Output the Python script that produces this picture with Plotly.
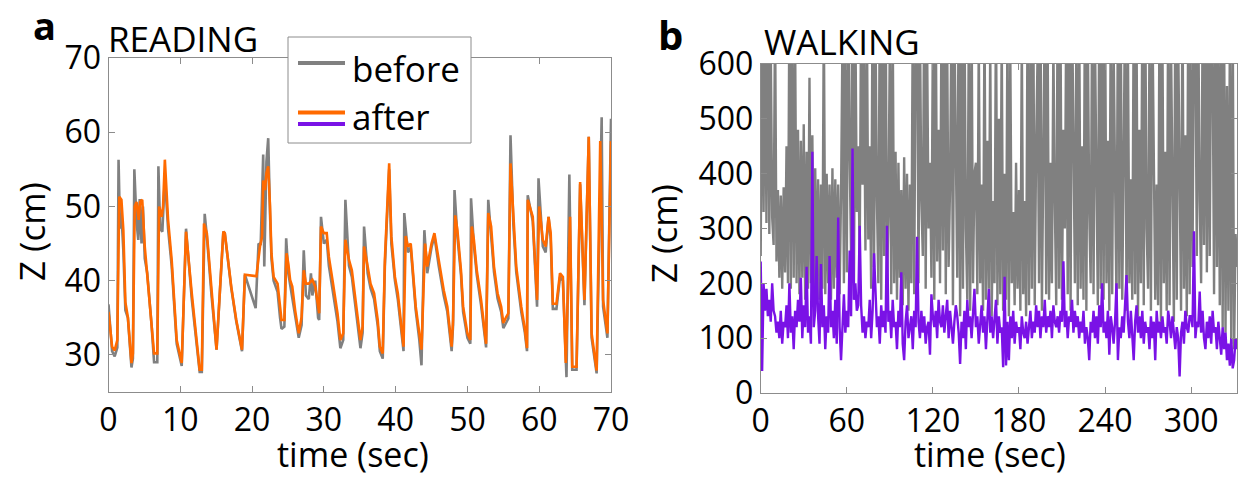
import plotly.graph_objects as go

W, H = 1238, 477

# ---------------- data: READING (panel a) ----------------
read_t_after = [0, 0.3, 0.5, 0.86, 1.23, 1.5, 1.8, 2.07, 2.35, 2.7, 3.2, 3.4, 3.65, 3.9, 4.2, 4.4, 4.7, 5.05, 5.4, 6.0,
                6.35, 6.8, 7.05, 7.4, 7.6, 7.85, 8.3, 8.8, 9.5, 10.2, 10.8, 11.6, 12.0, 12.7, 13.0, 13.3, 13.7, 14.35, 15.05, 15.5,
                16.0, 16.2, 17.1, 17.8, 18.6, 19.0, 20.6, 21.1, 21.4, 21.55, 21.8, 22.0, 22.25, 22.5, 22.7, 23.0, 23.3, 23.55, 23.9, 24.1,
                24.5, 24.8, 25.05, 25.3, 25.6, 26.0, 26.5, 26.9, 27.2, 27.5, 27.9, 28.4, 28.8, 29.2, 29.35, 29.6, 30.0, 30.4, 30.7, 31.2,
                31.9, 32.3, 32.7, 33.0, 33.5, 33.9, 34.6, 35.1, 35.4, 35.6, 36.1, 36.5, 37.0, 37.5, 37.8, 38.2, 38.5, 38.8, 39.1, 39.4,
                39.9, 40.3, 40.7, 41.1, 41.4, 41.7, 42.1, 42.5, 42.8, 43.3, 43.6, 44.1, 44.4, 45.0, 45.4, 46.0, 46.7, 47.2, 47.8, 48.0,
                48.3, 48.6, 49.1, 49.4, 50.0, 50.4, 50.6, 50.9, 51.3, 51.9, 52.3, 52.6, 52.9, 53.3, 53.7, 54.2, 54.7, 55.0, 55.4, 55.7,
                56.0, 56.4, 56.8, 57.5, 58.0, 58.3, 58.4, 59.1, 59.7, 60.0, 60.5, 60.9, 61.3, 61.6, 61.9, 62.4, 62.9, 63.3, 63.7, 64.3,
                64.6, 65.2, 65.7, 66.3, 66.9, 67.3, 68.0, 68.5, 68.9, 69.5, 70.0]
read_z_after = [35.8, 32.9, 31.1, 30.6, 32, 51.3, 50.9, 46.8, 37.1, 35.1, 28.9, 30.2, 50, 50.6, 48.2, 50.6, 50.9, 44.6, 41, 34.7,
                30.2, 30.2, 50, 48.6, 50, 56.3, 48.2, 42.8, 32, 28.9, 46.6, 38.3, 34.7, 28, 28, 47.7, 46.4, 38.3, 30.7, 38.3,
                46.6, 46.4, 39.2, 34.7, 30.7, 40.8, 40.6, 44.6, 45.9, 53.5, 52.2, 54.5, 55.4, 50, 43.7, 40.5, 40.1, 39.6, 36.5, 34.7,
                34.7, 43.7, 42.3, 40.1, 39.2, 36, 32.9, 35.1, 41.4, 39.6, 39.6, 40.1, 39.2, 36.5, 35.6, 47.3, 46.4, 46.4, 43.2, 40.1,
                35.6, 32, 32.9, 45.5, 42.8, 41.4, 35.6, 32, 33.8, 44.6, 41.9, 39.6, 38.3, 34.7, 31.1, 30.2, 42.8, 48.6, 55.8, 46,
                40.5, 38.3, 34.7, 31.1, 46, 44.6, 45, 40.5, 36.5, 32.9, 30.7, 45, 41.9, 45, 46.4, 42.8, 38.7, 36.5, 31.1, 34.7,
                48.8, 46.8, 41.4, 36.5, 32.9, 32, 47.3, 45.5, 41.4, 37.4, 33.8, 31.5, 49.1, 47.3, 41.9, 38.3, 36.5, 34.3, 35.1, 35.6,
                55.8, 48.2, 41.9, 36.5, 33.5, 30.9, 50.9, 48.6, 37.4, 50, 45.5, 44.6, 48.6, 46.4, 36.9, 36.9, 41, 40.5, 28.9, 48.6,
                28.4, 28.4, 53.3, 37.4, 59.4, 32.9, 27.9, 58.8, 37.4, 32.9, 58.8]

read_t_before = [0, 0.3, 0.5, 0.86, 1.23, 1.4, 1.6, 1.8, 2.07, 2.35, 2.7, 3.2, 3.4, 3.6, 3.9, 4.15, 4.35, 4.6, 4.8, 5.05,
                 5.4, 6.0, 6.35, 6.8, 6.95, 7.2, 7.5, 7.85, 8.3, 8.8, 9.5, 10.2, 10.8, 11.6, 12.0, 12.7, 13.0, 13.4, 13.7, 14.35,
                 15.05, 15.5, 16.0, 16.2, 17.1, 17.8, 18.6, 19.0, 20.5, 20.9, 21.2, 21.55, 21.7, 22.0, 22.25, 22.5, 22.7, 23.0, 23.3, 23.55,
                 23.9, 24.1, 24.5, 24.75, 25.05, 25.3, 25.6, 26.0, 26.5, 26.9, 27.2, 27.5, 27.9, 28.2, 28.4, 28.8, 29.2, 29.35, 29.6, 30.0,
                 30.4, 30.7, 31.2, 31.9, 32.3, 32.7, 33.0, 33.5, 33.9, 34.6, 35.1, 35.4, 35.6, 36.1, 36.5, 37.0, 37.5, 37.8, 38.2, 38.5,
                 38.8, 39.1, 39.4, 39.9, 40.3, 40.7, 41.1, 41.2, 41.7, 42.1, 42.5, 42.8, 43.3, 43.6, 44.0, 44.4, 45.0, 45.4, 46.0, 46.7,
                 47.2, 47.8, 48.0, 48.2, 48.6, 49.1, 49.4, 50.0, 50.4, 50.5, 50.9, 51.3, 51.9, 52.3, 52.6, 52.9, 53.3, 53.7, 54.2, 54.7,
                 55.0, 55.4, 55.7, 56.0, 56.4, 56.8, 57.5, 58.0, 58.3, 58.4, 59.1, 59.7, 59.9, 60.5, 60.9, 61.3, 61.6, 61.9, 62.4, 62.9,
                 63.3, 63.8, 64.2, 64.6, 65.2, 65.7, 66.3, 66.9, 67.3, 68.0, 68.7, 68.9, 69.5, 70.0]
read_z_before = [36.8, 33, 30.5, 29.8, 31, 56.3, 47, 49, 44, 36, 35, 28.3, 29.5, 55, 48, 45.5, 51, 45, 50, 43,
                 41, 34, 29, 29, 55.4, 47, 46.6, 54, 47, 42, 31.5, 28.5, 47, 37.5, 34, 27.7, 27.7, 49, 46, 38,
                 30.7, 38, 46.6, 46.4, 39, 34.5, 30.5, 40.8, 36.3, 45, 44.8, 57, 41.9, 56, 59.2, 49, 43, 40, 39, 38.5,
                 35, 33.5, 33.8, 45.7, 41, 39.5, 38, 35, 32.3, 34, 44.1, 38, 37.5, 41, 38, 40, 35, 34.7, 48.6, 45,
                 45.5, 42, 39, 34.5, 30.9, 32, 50.9, 42, 40.5, 35, 30.9, 33, 47.3, 41, 39, 37.5, 34, 30.5, 29.5, 42,
                 48, 55, 45, 40, 37.5, 34, 30.5, 49.1, 43.8, 44.5, 39.5, 36, 32, 28.6, 46.8, 41, 44.5, 46, 42, 38,
                 35.8, 30.5, 34, 52.2, 46, 40.8, 35.8, 32.3, 31.5, 51.1, 44.8, 40.8, 36.7, 33, 31, 50.9, 46.5, 41.2, 37.6, 35.8,
                 33.6, 34.4, 34.9, 59.6, 47.5, 41.2, 35.8, 33, 30.5, 51.5, 48, 36.5, 53.8, 44.6, 43.8, 48.6, 45.6, 36.2, 36.2, 40.5,
                 40, 27, 54.3, 28, 28, 53, 36.7, 59.4, 32.3, 27.5, 62, 36.5, 32.3, 61.8]

# ---------------- data: WALKING (panel b), one sample per second ----------------
walk_before = [
    250, 720, 330, 680, 310, 760, 290, 640, 320, 270,
    700, 240, 370, 210, 360, 190, 375, 220, 450, 200,
    720, 190, 680, 210, 650, 200, 480, 180, 460, 210,
    490, 170, 440, 190, 575, 200, 470, 180, 410, 200,
    390, 170, 380, 190, 700, 180, 400, 200, 380, 170,
    410, 190, 390, 210, 380, 180, 360, 650, 200, 720,
    220, 800, 430, 250, 760, 200, 680, 330, 450, 240,
    720, 380, 610, 260, 700, 280, 450, 190, 750, 230,
    680, 350, 200, 720, 170, 660, 250, 800, 190, 320,
    640, 180, 690, 200, 440, 170, 420, 210, 370, 160,
    430, 190, 400, 150, 380, 200, 700, 180, 650, 720,
    200, 680, 350, 250, 760, 190, 640, 300, 420, 210,
    660, 170, 720, 240, 480, 200, 690, 260, 740, 180,
    640, 230, 380, 700, 160, 680, 450, 210, 750, 140,
    660, 190, 720, 300, 170, 640, 150, 700, 200, 400,
    420, 180, 650, 200, 380, 150, 700, 170, 460, 190,
    640, 140, 350, 200, 720, 160, 500, 180, 660, 150,
    400, 170, 680, 140, 620, 200, 330, 160, 420, 190,
    370, 150, 650, 180, 350, 140, 700, 160, 640, 190,
    720, 160, 450, 620, 200, 740, 150, 400, 700, 180,
    650, 170, 420, 200, 640, 350, 160, 750, 190, 660,
    170, 480, 300, 700, 180, 690, 150, 720, 380, 200,
    640, 160, 710, 190, 450, 170, 740, 150, 660, 330,
    200, 700, 180, 650, 400, 160, 720, 190, 690, 170,
    750, 200, 460, 150, 700, 180, 630, 350, 160, 720,
    190, 680, 170, 420, 740, 150, 620, 200, 390, 170,
    720, 180, 650, 140, 480, 200, 690, 160, 740, 300,
    190, 650, 150, 700, 360, 170, 380, 160, 720, 130,
    660, 200, 440, 150, 700, 160, 640, 350, 130, 720,
    170, 650, 420, 150, 740, 190, 470, 140, 700, 180,
    650, 230, 720, 640, 250, 700, 350, 200, 680, 270,
    740, 220, 660, 250, 700, 630, 180, 720, 230, 650,
    160, 700, 120, 680, 110, 560, 150, 640, 90, 700,
    80, 290, 230]
walk_after = [
    240, 40, 200, 150, 190, 140, 170, 130, 200, 150,
    140, 110, 130, 100, 150, 90, 130, 120, 160, 100,
    200, 110, 140, 80, 150, 120, 170, 130, 210, 100,
    160, 120, 230, 110, 140, 90, 440, 120, 150, 250,
    140, 90, 235, 120, 160, 80, 140, 110, 250, 120,
    150, 100, 170, 90, 320, 120, 60, 130, 180, 110,
    150, 120, 260, 140, 446, 170, 200, 150, 160, 305,
    160, 110, 140, 100, 130, 120, 170, 100, 150, 255,
    190, 120, 140, 90, 160, 120, 150, 110, 305, 130,
    150, 100, 170, 120, 130, 80, 150, 120, 220, 90,
    60, 130, 160, 100, 120, 140, 80, 150, 120, 285,
    130, 100, 150, 110, 140, 90, 120, 130, 70, 180,
    140, 120, 150, 100, 170, 130, 120, 160, 110, 140,
    170, 100, 150, 120, 90, 130, 160, 140, 110, 53,
    130, 100, 150, 80, 170, 120, 140, 100, 150, 190,
    120, 140, 90, 130, 160, 110, 140, 80, 130, 190,
    110, 140, 100, 130, 170, 90, 140, 110, 120, 47,
    212, 50, 130, 60, 140, 100, 150, 90, 130, 110,
    120, 80, 140, 110, 100, 130, 90, 120, 150, 100,
    130, 110, 160, 120, 150, 100, 140, 120, 170, 110,
    140, 120, 150, 100, 160, 130, 120, 140, 110, 150,
    130, 240, 120, 150, 100, 140, 130, 170, 110, 150,
    120, 140, 100, 130, 110, 150, 90, 120, 100, 60,
    130, 110, 150, 100, 140, 90, 160, 120, 200, 110,
    130, 100, 150, 70, 140, 120, 90, 130, 200, 60,
    120, 100, 140, 110, 170, 215, 130, 100, 150, 110,
    60, 130, 160, 110, 140, 100, 150, 90, 130, 110,
    120, 80, 140, 100, 130, 60, 150, 110, 130, 100,
    140, 110, 120, 90, 150, 130, 100, 140, 110, 80,
    120, 100, 30, 110, 130, 90, 150, 120, 110, 140,
    140, 120, 295, 100, 130, 120, 185, 110, 150, 100,
    80, 130, 100, 140, 90, 150, 110, 120, 80, 130,
    100, 70, 120, 80, 110, 60, 90, 50, 100, 45,
    60, 100, 80]
walk_t = list(range(len(walk_before)))

read_xticks = [0, 10, 20, 30, 40, 50, 60, 70]
read_yticks = [30, 40, 50, 60, 70]
walk_xticks = [0, 60, 120, 180, 240, 300]
walk_yticks = [0, 100, 200, 300, 400, 500, 600]

GRAY = "#808080"
ORANGE = "#ff6a00"
PURPLE = "#7a12e6"
AXC = "#8c8c8c"
FONT = "Open Sans"


def px(x):
    return x / W


def py(y):
    return 1 - y / H


fig = go.Figure()
fig.add_trace(go.Scatter(x=read_t_before, y=read_z_before, mode="lines",
                         line=dict(color=GRAY, width=2.6), xaxis="x", yaxis="y"))
fig.add_trace(go.Scatter(x=read_t_after, y=read_z_after, mode="lines",
                         line=dict(color=ORANGE, width=2.6), xaxis="x", yaxis="y"))
fig.add_trace(go.Scatter(x=walk_t, y=walk_before, mode="lines",
                         line=dict(color=GRAY, width=2.4), xaxis="x2", yaxis="y2"))
fig.add_trace(go.Scatter(x=walk_t, y=walk_after, mode="lines",
                         line=dict(color=PURPLE, width=2.4), xaxis="x2", yaxis="y2"))

axis_common = dict(showline=True, linecolor=AXC, linewidth=1, mirror="ticks",
                   ticks="inside", ticklen=6, tickcolor=AXC, tickwidth=1,
                   showgrid=False, zeroline=False, automargin=False,
                   tickfont=dict(family=FONT, size=32, color="black"))

fig.update_layout(
    width=W, height=H, autosize=False,
    margin=dict(l=0, r=0, t=0, b=0),
    paper_bgcolor="white", plot_bgcolor="white",
    showlegend=False,
    xaxis=dict(domain=[px(108.5), px(611)], range=[0, 70], tickvals=read_xticks,
               anchor="y", ticklabelstandoff=0, **axis_common),
    yaxis=dict(domain=[py(392), py(58)], range=[25, 70], tickvals=read_yticks,
               anchor="x", ticklabelstandoff=0, **axis_common),
    xaxis2=dict(domain=[px(760.7), px(1237)], range=[0, 332], tickvals=walk_xticks,
                anchor="y2", ticklabelstandoff=0, **axis_common),
    yaxis2=dict(domain=[py(393), py(64)], range=[0, 600], tickvals=walk_yticks,
                anchor="x2", ticklabelstandoff=0, **axis_common),
)


def ann(text, x, y, size, xanchor="center", yanchor="middle", bold=False, angle=0):
    fig.add_annotation(text=("<b>%s</b>" % text) if bold else text,
                       x=px(x), y=py(y), xref="paper", yref="paper",
                       xanchor=xanchor, yanchor=yanchor, showarrow=False,
                       textangle=angle,
                       font=dict(family=FONT, size=size, color="black"))


# panel letters and titles
ann("a", 31, 25, 38, xanchor="left", bold=True)
ann("b", 656, 34, 40, xanchor="left", bold=True)
ann("READING", 106, 39, 35, xanchor="left")
ann("WALKING", 762, 41, 35, xanchor="left")
# axis titles
ann("time (sec)", 353, 454, 34)
ann("time (sec)", 990, 454, 34)
ann("Z (cm)", 31, 232, 35, angle=-90)
ann("Z (cm)", 663, 234, 35, angle=-90)

# legend box (drawn manually to reproduce the two-colour swatch)
fig.add_shape(type="rect", xref="paper", yref="paper",
              x0=px(288), x1=px(471), y0=py(143), y1=py(37),
              line=dict(color=AXC, width=1), fillcolor="white", layer="above")
fig.add_shape(type="line", xref="paper", yref="paper",
              x0=px(298), x1=px(345), y0=py(63), y1=py(63),
              line=dict(color=GRAY, width=4), layer="above")
fig.add_shape(type="line", xref="paper", yref="paper",
              x0=px(298), x1=px(345), y0=py(112.5), y1=py(112.5),
              line=dict(color=ORANGE, width=4), layer="above")
fig.add_shape(type="line", xref="paper", yref="paper",
              x0=px(298), x1=px(345), y0=py(124), y1=py(124),
              line=dict(color=PURPLE, width=4), layer="above")
ann("before", 350, 68, 35, xanchor="left")
ann("after", 350, 116, 35, xanchor="left")

fig.write_html("out.html",
               config={"displayModeBar": False},
               post_script="document.body.style.margin='0px';document.body.style.overflow='hidden';")
